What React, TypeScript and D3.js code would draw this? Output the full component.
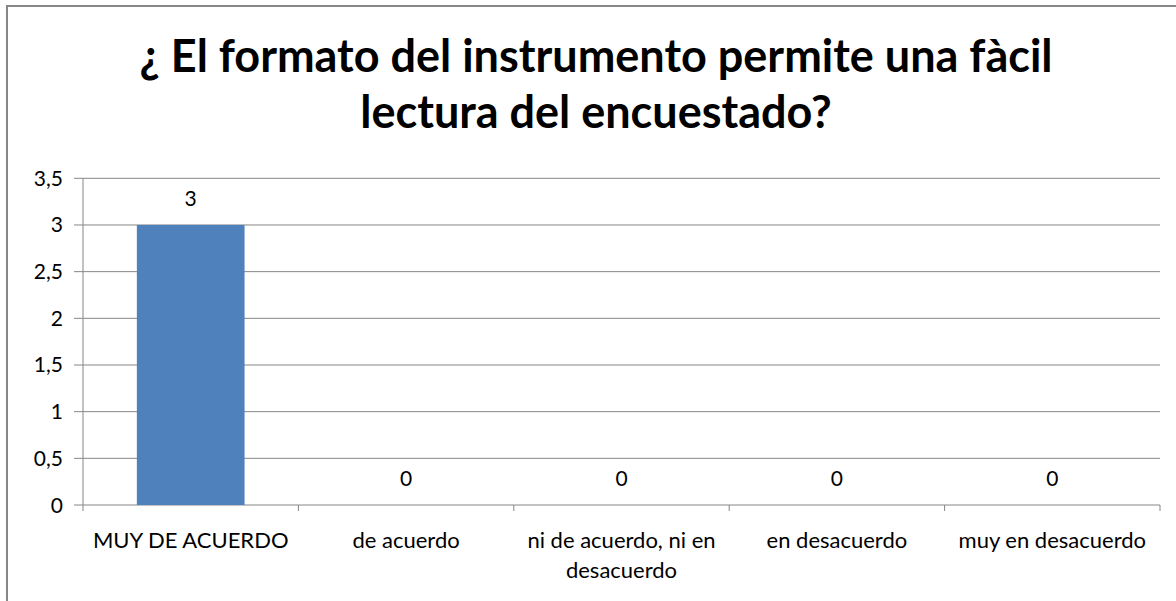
import React from "react";
import * as d3 from "d3";

const categories = ["MUY DE ACUERDO", "de acuerdo", "ni de acuerdo, ni en desacuerdo", "en desacuerdo", "muy en desacuerdo"];
const categoryLines = [["MUY DE ACUERDO"], ["de acuerdo"], ["ni de acuerdo, ni en", "desacuerdo"], ["en desacuerdo"], ["muy en desacuerdo"]];
const values = [3, 0, 0, 0, 0];
const yTicks = [0, 0.5, 1, 1.5, 2, 2.5, 3, 3.5];
const titleLines = ["¿ El formato del instrumento permite una fàcil", "lectura del encuestado?"];

const W = 1176, H = 601;
const FONT = "Lato, 'Open Sans', sans-serif";

export default function App() {
  const left = 83, right = 1160, top = 178.3, bottom = 505;
  const x = d3.scaleBand<string>().domain(categories).range([left, right]).paddingInner(0.5).paddingOuter(0.25);
  const bandStep = (right - left) / categories.length;
  const y = d3.scaleLinear().domain([0, 3.5]).range([bottom, top]);
  const fmt = (v: number) => String(v).replace(".", ",");
  return (
    <svg width={W} height={H} style={{ position: "absolute", left: 0, top: 0 }}>
      <rect x={0} y={0} width={W} height={H} fill="#fff" />
      <rect x={7} y={6} width={W} height={H} fill="#fff" stroke="#878787" strokeWidth={2} />
      {titleLines.map((t, i) => (
        <text key={i} x={596} y={72 + i * 56} textAnchor="middle" fontFamily={FONT} fontWeight="bold" fontSize={45} fill="#000">{t}</text>
      ))}
      {yTicks.map((t) => (
        <g key={t}>
          <line x1={74} x2={right} y1={y(t)} y2={y(t)} stroke="#868686" strokeWidth={1} />
          <text x={63} y={y(t) + 7.5} textAnchor="end" fontFamily={FONT} fontSize={21} fill="#000">{fmt(t)}</text>
        </g>
      ))}
      <line x1={left} x2={left} y1={top} y2={bottom} stroke="#868686" strokeWidth={1} />
      {d3.range(categories.length + 1).map((i) => (
        <line key={i} x1={left + i * bandStep} x2={left + i * bandStep} y1={bottom} y2={bottom + 6} stroke="#868686" strokeWidth={1} />
      ))}
      {categories.map((c, i) => (
        <g key={c}>
          {values[i] > 0 && (
            <rect x={x(c)} y={y(values[i])} width={x.bandwidth()} height={bottom - y(values[i])} fill="#4F81BD" />
          )}
          <text x={x(c)! + x.bandwidth() / 2} y={y(values[i]) - 19} textAnchor="middle" fontFamily={FONT} fontSize={21} fill="#000">{values[i]}</text>
          {categoryLines[i].map((l, j) => (
            <text key={j} x={x(c)! + x.bandwidth() / 2} y={548 + j * 30} textAnchor="middle" fontFamily={FONT} fontSize={22} fill="#000">{l}</text>
          ))}
        </g>
      ))}
    </svg>
  );
}
